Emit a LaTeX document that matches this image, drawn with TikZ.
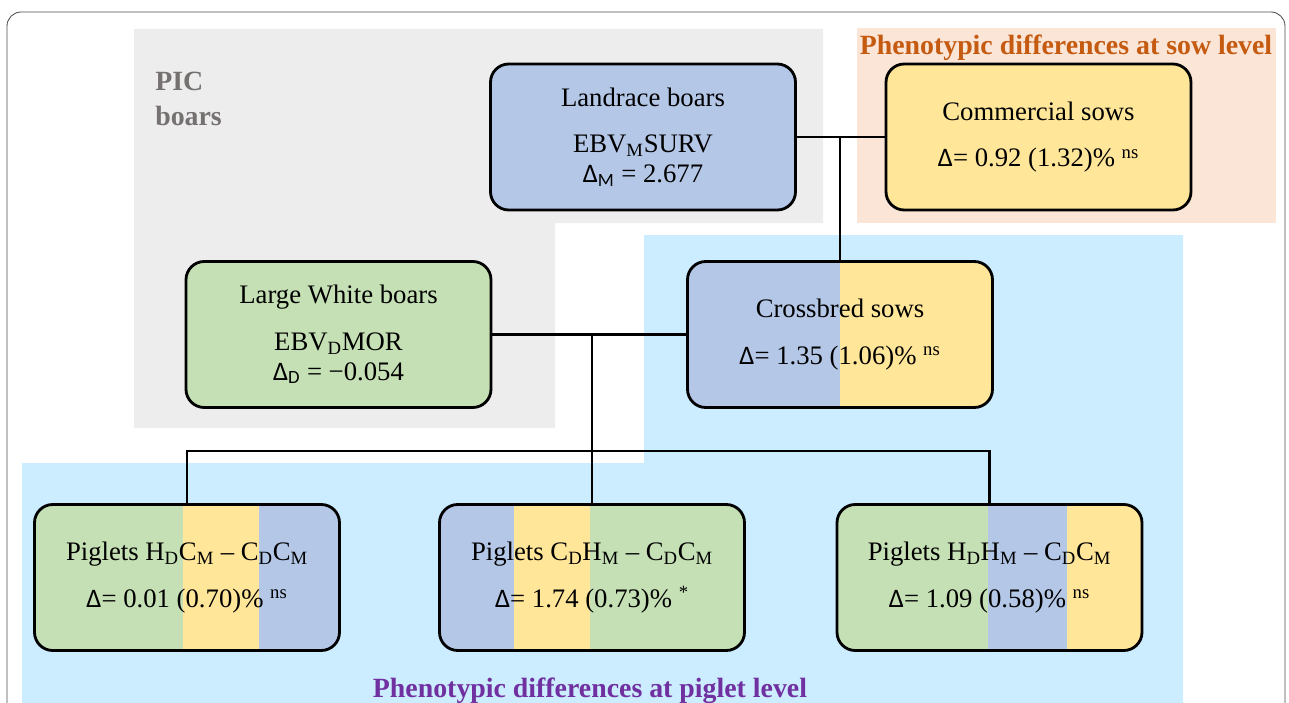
\documentclass[tikz,border=0pt]{standalone}
\usepackage{fontspec}
\setmainfont{Liberation Serif}
\newfontfamily\deltafont{Carlito}
\usetikzlibrary{calc}
\definecolor{boarblue}{HTML}{B4C7E7}
\definecolor{sowyellow}{HTML}{FFE699}
\definecolor{boargreen}{HTML}{C5E0B4}
\definecolor{picgray}{HTML}{EDEDED}
\definecolor{sowbg}{HTML}{FBE5D6}
\definecolor{pigletbg}{HTML}{CCECFF}
\definecolor{sowtitle}{HTML}{C55A11}
\definecolor{piglettitle}{HTML}{7030A0}
\definecolor{pictext}{HTML}{767171}
\newlength{\px}
\setlength{\px}{0.025cm}
\newcommand{\dlt}{{\deltafont Δ}}
\newcommand{\dsub}[1]{\textsubscript{#1}}
\newcommand{\boxfont}{\fontsize{19}{21.3}\selectfont}
\newcommand{\titlefont}{\fontsize{19.8}{24.9}\selectfont\bfseries}

\begin{document}
\begin{tikzpicture}[
x=0.025cm, y=-0.025cm,
% boxes
box/.style={draw, line width=2pt, rounded corners=13pt, minimum width=305\px, minimum height=146\px, inner sep=0, align=center, font=\boxfont},
sire/.style={box, fill=boarblue},
dam/.style={box, fill=boargreen},
sow/.style={box, fill=sowyellow},
% striped fills (fractions of the width)
duo/.style n args={3}{path picture={
 \fill[#1, sharp corners] (path picture bounding box.south west) rectangle ($(path picture bounding box.north west)!#2!(path picture bounding box.north east)$);
 \fill[#3, sharp corners] ($(path picture bounding box.south west)!#2!(path picture bounding box.south east)$) rectangle (path picture bounding box.north east);
}},
tri/.style n args={5}{path picture={
 \fill[#1, sharp corners] (path picture bounding box.south west) rectangle ($(path picture bounding box.north west)!#2!(path picture bounding box.north east)$);
 \fill[#3, sharp corners] ($(path picture bounding box.south west)!#2!(path picture bounding box.south east)$) rectangle ($(path picture bounding box.north west)!#4!(path picture bounding box.north east)$);
 \fill[#5, sharp corners] ($(path picture bounding box.south west)!#4!(path picture bounding box.south east)$) rectangle (path picture bounding box.north east);
}},
% connectors
link/.style={line width=2pt},
% annotations
title/.style={font=\titlefont, anchor=base},
frame/.style={draw=black!70, line width=0.6pt, rounded corners=10pt}
]

\useasboundingbox (0,0) rectangle (1289,703);

% BACKGROUND AREAS
\fill[picgray] (134,29) -| (823,223) -| (555,428) -| cycle;
\fill[sowbg] (857,28) rectangle (1276,223);
\fill[pigletbg] (644,235) -| (1183,703) -| (22,463) -| cycle;
\draw[frame] (7,703) |- (1285,12) -- (1285,703);

% annotations of the areas
\path
(155,72) node[font=\titlefont, color=pictext, anchor=north west, inner sep=0, align=left] (pic) {PIC\\boars}
(1066,55) node[title, color=sowtitle] (sowlevel) {Phenotypic differences at sow level}
(590,697) node[title, color=piglettitle] (pigletlevel) {Phenotypic differences at piglet level}
;

% ANIMALS
% boars and sows
\node[sire] (landrace) at (643,137) {Landrace boars\\[12pt] EBV\dsub{M}SURV\\ \dlt\dsub{\deltafont M} = 2.677};
\node[sow] (commercial) at (1038.5,137) {Commercial sows\\[12pt] \dlt= 0.92 (1.32)\% \textsuperscript{ns}};
\node[dam] (largewhite) at (338.5,334.5) {Large White boars\\[12pt] EBV\dsub{D}MOR\\ \dlt\dsub{\deltafont D} = −0.054};
\node[box, duo={boarblue}{0.5}{sowyellow}] (crossbred) at (840,334.5) {Crossbred sows\\[12pt] \dlt= 1.35 (1.06)\% \textsuperscript{ns}};
% piglets
\node[box, tri={boargreen}{0.487}{sowyellow}{0.737}{boarblue}] (pigHDCM) at (187,577.5) {Piglets H\dsub{D}C\dsub{M} – C\dsub{D}C\dsub{M}\\[12pt] \dlt= 0.01 (0.70)\% \textsuperscript{ns}};
\node[box, tri={boarblue}{0.243}{sowyellow}{0.493}{boargreen}] (pigCDHM) at (592,577.5) {Piglets C\dsub{D}H\dsub{M} – C\dsub{D}C\dsub{M}\\[12pt] \dlt= 1.74 (0.73)\% \textsuperscript{*}};
\node[box, tri={boargreen}{0.495}{boarblue}{0.754}{sowyellow}] (pigHDHM) at (989.5,577.5) {Piglets H\dsub{D}H\dsub{M} – C\dsub{D}C\dsub{M}\\[12pt] \dlt= 1.09 (0.58)\% \textsuperscript{ns}};

% MATINGS
\coordinate (bar) at (590,451);
\draw[link] (landrace.east) -- (commercial.west);
\draw[link] (landrace.east -| crossbred.north) -- (crossbred.north);
\draw[link] (largewhite.east) -- (crossbred.west);
\draw[link] (largewhite.east -| pigCDHM.north) -- (pigCDHM.north);
\draw[link] (pigHDCM.north) |- (bar) -| (pigHDHM.north);

\end{tikzpicture}
\end{document}
